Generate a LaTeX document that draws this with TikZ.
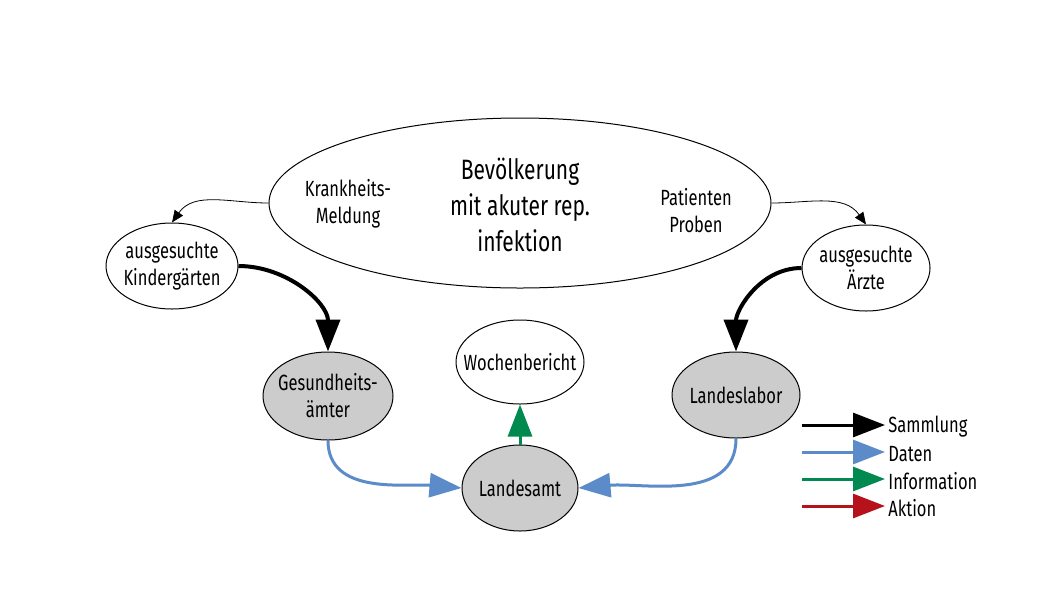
\documentclass[tikz,border=0pt]{standalone}
\usepackage{fontspec}
\setmainfont[FakeStretch=0.75]{Fira Sans}
\usepackage{xcolor}
\usetikzlibrary{positioning,calc}
\usetikzlibrary{shapes.geometric,arrows.meta}
\definecolor{datablue}{HTML}{5B8BC9}
\definecolor{infogreen}{HTML}{008A50}
\definecolor{actred}{HTML}{B5121B}
\definecolor{stategray}{HTML}{CCCCCC}

\begin{document}
\begin{tikzpicture}[x=0.5pt, y=-0.5pt,
		blob/.style={shape=ellipse, draw, line width=0.5pt, inner xsep=-8pt, inner ysep=0pt, align=center, font=\fontsize{11}{13.5}\selectfont},
		office/.style={blob, fill=stategray},
		thin/.style={-{Triangle[length=6pt, width=5pt]}, line width=0.4pt},
		sammlung/.style={-{Triangle[length=16pt, width=12pt]}, line width=2pt, black},
		daten/.style={-{Triangle[length=16pt, width=12pt]}, line width=1.5pt, datablue},
		info/.style={-{Triangle[length=16pt, width=12pt]}, line width=1.5pt, infogreen},
		aktion/.style={-{Triangle[length=16pt, width=12pt]}, line width=1.5pt, actred},
		legtext/.style={anchor=west, inner sep=0pt, font=\fontsize{11}{13.5}\selectfont}]
			\useasboundingbox (0,0) rectangle (1058,595);
			% population
			\node[name=pop, blob, minimum width=251pt, minimum height=85pt] at (520,203) {};
			\node[name=popt, align=center, font=\fontsize{14}{18}\selectfont] at (520,205) {Bevölkerung\\mit akuter rep.\\infektion};
			\node[name=meld, align=center, font=\fontsize{11}{13.5}\selectfont] at (348,204) {Krankheits-\\Meldung};
			\node[name=prob, align=center, font=\fontsize{11}{13.5}\selectfont] at (696,211) {Patienten\\Proben};
			% sentinels
			\node[name=kiga, blob, minimum width=66pt, minimum height=43pt] at (172,266) {ausgesuchte\\Kindergärten};
			\node[name=arzt, blob, minimum width=64pt, minimum height=43pt] at (866,268) {ausgesuchte\\Ärzte};
			% offices
			\node[name=ga, office, minimum width=65pt, minimum height=44pt] at (328,396) {Gesundheits-\\ämter};
			\node[name=woche, blob, minimum width=64pt, minimum height=42pt] at (520,362) {Wochenbericht};
			\node[name=amt, office, minimum width=58pt, minimum height=43pt] at (520,488) {Landesamt};
			\node[name=labor, office, minimum width=64pt, minimum height=43pt] at (736,395) {Landeslabor};
			% connectors
			\draw[thin] (pop.west) to[out=180, in=55] (kiga.north);
			\draw[thin] (pop.east) to[out=0, in=125] (arzt.north);
			\draw[sammlung] (kiga.east) to[out=0, in=90] (ga.north);
			\draw[sammlung] (arzt.west) to[out=180, in=90] (labor.north);
			\draw[daten] (ga.south) to[out=-90, in=175] (amt.west);
			\draw[daten] (labor.south) to[out=-90, in=5] (amt.east);
			\draw[info] (amt.north) -- (woche.south);
			% legend
			\coordinate (l1) at (802,425);
			\coordinate (l2) at (802,452);
			\coordinate (l3) at (802,479);
			\coordinate (l4) at (802,506);
			\node[name=t1, legtext] at (888,427) {Sammlung};
			\node[name=t2, legtext] at (888,454) {Daten};
			\node[name=t3, legtext] at (888,481) {Information};
			\node[name=t4, legtext] at (888,508) {Aktion};
			\draw[sammlung, line width=1.5pt] (l1) -- ($(t1.west)+(-3,-2)$);
			\draw[daten] (l2) -- ($(t2.west)+(-3,-2)$);
			\draw[info] (l3) -- ($(t3.west)+(-3,-2)$);
			\draw[aktion] (l4) -- ($(t4.west)+(-3,-2)$);
		\end{tikzpicture}
\end{document}
